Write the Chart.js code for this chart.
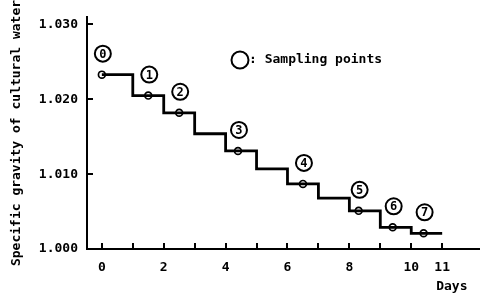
<!DOCTYPE html>
<html>
<head>
<meta charset="utf-8">
<script src="https://cdn.jsdelivr.net/npm/chart.js@4/dist/chart.umd.min.js"></script>
<style>
  html, body { margin: 0; padding: 0; background: #fff; }
  canvas { display: block; }
</style>
</head>
<body>
<canvas id="chart" width="485" height="294"></canvas>
<script>
// ── Data ──────────────────────────────────────────────────────────
const stepDays    = [0, 1, 2, 3, 4, 5, 6, 7, 8, 9, 10, 11];
const stepGravity = [1.0233, 1.0205, 1.0182, 1.0154, 1.0131, 1.0107,
                     1.0087, 1.0068, 1.0051, 1.0029, 1.0021, 1.0021];

const sampleDays    = [0, 1.5, 2.5, 4.4, 6.5, 8.3, 9.4, 10.4];
const sampleGravity = [1.0233, 1.0205, 1.0182, 1.0131, 1.0087, 1.0051, 1.0029, 1.0021];
const sampleLabels  = ['0', '1', '2', '3', '4', '5', '6', '7'];

const xTickDays  = [0, 1, 2, 3, 4, 5, 6, 7, 8, 9, 10, 11];
const xLabelDays = [0, 2, 4, 6, 8, 10, 11];
const yTickVals  = [1.000, 1.010, 1.020, 1.030];

const FONT = 'DejaVu Sans Mono';

// ── Extra drawing: inward ticks, circled labels, legend, "Days" ──
const decorPlugin = {
    id: 'decor',
    afterDatasetsDraw(chart) {
        const ctx = chart.ctx;
        const xs = chart.scales.x;
        const ys = chart.scales.y;
        const area = chart.chartArea;

        ctx.save();
        ctx.strokeStyle = '#000';
        ctx.lineWidth = 2;

        // x ticks pointing up
        xTickDays.forEach(d => {
            const px = Math.round(xs.getPixelForValue(d));
            ctx.beginPath();
            ctx.moveTo(px, area.bottom);
            ctx.lineTo(px, area.bottom - 6);
            ctx.stroke();
        });

        // y ticks pointing right
        yTickVals.filter(v => v > 1.0).forEach(v => {
            const py = Math.round(ys.getPixelForValue(v));
            ctx.beginPath();
            ctx.moveTo(area.left, py);
            ctx.lineTo(area.left + 6, py);
            ctx.stroke();
        });

        // circled sample numbers
        const meta = chart.getDatasetMeta(1);
        ctx.lineWidth = 2;
        ctx.fillStyle = '#000';
        ctx.font = 'bold 12px ' + FONT;
        ctx.textAlign = 'center';
        ctx.textBaseline = 'middle';
        meta.data.forEach((pt, i) => {
            const cx = pt.x + 1;
            const cy = pt.y - 21;
            ctx.beginPath();
            ctx.arc(cx, cy, 8, 0, Math.PI * 2);
            ctx.stroke();
            ctx.fillText(sampleLabels[i], cx, cy + 1);
        });

        // legend
        ctx.beginPath();
        ctx.arc(240, 60, 8.5, 0, Math.PI * 2);
        ctx.stroke();
        ctx.font = 'bold 13px ' + FONT;
        ctx.textAlign = 'left';
        ctx.fillText(': Sampling points', 249, 60);

        // x axis unit
        ctx.fillText('Days', xs.getPixelForValue(11) - 6, area.bottom + 38);
        ctx.restore();
    }
};

// ── Chart ─────────────────────────────────────────────────────────
new Chart(document.getElementById('chart'), {
    type: 'line',
    data: {
        datasets: [
            {
                data: stepDays.map((d, i) => ({ x: d, y: stepGravity[i] })),
                stepped: 'before',
                borderColor: '#000',
                borderWidth: 2.8,
                pointRadius: 0,
                fill: false
            },
            {
                data: sampleDays.map((d, i) => ({ x: d, y: sampleGravity[i] })),
                showLine: false,
                pointRadius: 3.4,
                pointBorderWidth: 1.7,
                pointBorderColor: '#000',
                pointBackgroundColor: '#fff'
            }
        ]
    },
    options: {
        responsive: false,
        animation: false,
        devicePixelRatio: 1,
        layout: { padding: { top: 17, right: 0, bottom: 0, left: 0 } },
        plugins: {
            legend: { display: false },
            tooltip: { enabled: false }
        },
        scales: {
            x: {
                type: 'linear',
                min: -0.48,
                max: 12.2,
                afterBuildTicks: s => { s.ticks = xLabelDays.map(v => ({ value: v })); },
                afterFit: s => { s.height = 45; },
                grid: { display: false, drawTicks: false },
                border: { display: true, color: '#000', width: 2 },
                ticks: {
                    color: '#000',
                    padding: 11,
                    maxRotation: 0,
                    autoSkip: false,
                    font: { family: FONT, size: 13, weight: 'bold' },
                    callback: v => String(v)
                }
            },
            y: {
                min: 1.000,
                max: 1.031,
                afterBuildTicks: s => { s.ticks = yTickVals.map(v => ({ value: v })); },
                afterFit: s => { s.width = 87; },
                grid: { display: false, drawTicks: false },
                border: { display: true, color: '#000', width: 2 },
                ticks: {
                    color: '#000',
                    padding: 9,
                    font: { family: FONT, size: 13, weight: 'bold' },
                    callback: v => v.toFixed(3)
                },
                title: {
                    display: true,
                    text: 'Specific gravity of cultural water',
                    color: '#000',
                    padding: { top: 9, bottom: 0 },
                    font: { family: FONT, size: 13, weight: 'bold' }
                }
            }
        }
    },
    plugins: [decorPlugin]
});
</script>
</body>
</html>
